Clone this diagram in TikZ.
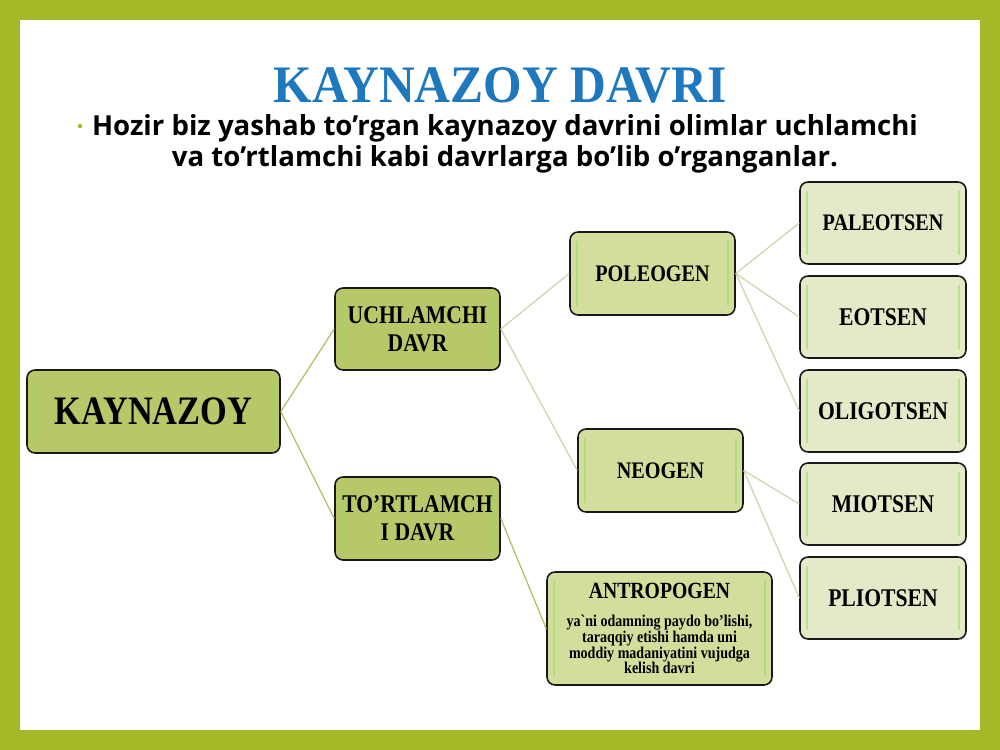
\documentclass[tikz,border=0pt]{standalone}
\usepackage{fontspec}
\setmainfont{Liberation Serif}
\newfontfamily\titlefont[FakeStretch=0.94]{Liberation Serif}
\newfontfamily\boxfont[FakeStretch=0.85]{Liberation Serif}
\newfontfamily\bodyfont{Open Sans}
\definecolor{frame}{RGB}{165,185,40}
\definecolor{titleblue}{RGB}{30,120,190}
\definecolor{greenA}{RGB}{184,200,105}
\definecolor{greenB}{RGB}{210,222,155}
\definecolor{greenC}{RGB}{228,234,200}
\definecolor{lineA}{RGB}{175,192,100}
\definecolor{lineB}{RGB}{205,212,175}
\tikzset{
  shine/.style={path picture={
    \draw[white!55!yellow!60!green,opacity=0.55,line width=1.6pt]
      ([xshift=0.14cm,yshift=-0.18cm]path picture bounding box.north west)--([xshift=0.14cm,yshift=0.18cm]path picture bounding box.south west)
      ([xshift=-0.14cm,yshift=-0.18cm]path picture bounding box.north east)--([xshift=-0.14cm,yshift=0.18cm]path picture bounding box.south east);}},
  box/.style={draw=black!90,line width=0.9pt,rounded corners=0.16cm,align=center,
    font=\boxfont\bfseries,inner sep=2pt,shine},
  lvlone/.style={box,fill=greenA,minimum width=3.3cm,minimum height=1.64cm,font=\boxfont\bfseries\fontsize{14.5}{16}\selectfont},
  lvltwo/.style={box,fill=greenB,minimum width=3.3cm,minimum height=1.66cm,font=\boxfont\bfseries\fontsize{13.5}{15}\selectfont},
  lvlthree/.style={box,fill=greenC,minimum width=3.32cm,minimum height=1.64cm,font=\boxfont\bfseries\fontsize{14.5}{16}\selectfont},
  linkA/.style={draw=lineA,line width=0.7pt},
  linkB/.style={draw=lineB,line width=0.7pt}
}
\begin{document}
\begin{tikzpicture}[x=0.02cm,y=-0.02cm]
  \fill[frame] (0,0) rectangle (1000,750);
  \fill[white] (20,20) rectangle (980,730);
  \useasboundingbox (0,0) rectangle (1000,750);
  % sarlavha
  \node[text=titleblue,font=\titlefont\bfseries\fontsize{30}{32}\selectfont] (title) at (500,85) {KAYNAZOY DAVRI};
  \fill[frame] (80,126) circle (2.2);
  \node[align=center,font=\bodyfont\bfseries\fontsize{15.7}{18}\selectfont] (intro) at (505,144)
    {Hozir biz yashab to’rgan kaynazoy davrini olimlar uchlamchi\\va to’rtlamchi kabi davrlarga bo’lib o’rganganlar.};
  % tugunlar
  \node[lvlone,minimum width=5.06cm,minimum height=1.66cm,font=\boxfont\bfseries\fontsize{23}{25}\selectfont] (kaynazoy) at (153.5,411.5) {KAYNAZOY};
  \node[lvlone] (uchlamchi) at (417.5,329) {UCHLAMCHI\\DAVR};
  \node[lvlone,minimum height=1.66cm] (tortlamchi) at (417.5,518.5) {TO’RTLAMCH\\I DAVR};
  \node[lvltwo] (poleogen) at (652.5,273.5) {POLEOGEN};
  \node[lvltwo] (neogen) at (660.5,470.5) {NEOGEN};
  \node[lvltwo,minimum width=4.5cm,minimum height=2.26cm,
    font=\boxfont\bfseries\fontsize{9.4}{9}\selectfont] (antropogen) at (659.5,628.5)
    {{\fontsize{13.2}{15}\selectfont ANTROPOGEN}\\[7pt]ya`ni odamning paydo bo’lishi,\\taraqqiy etishi hamda uni\\moddiy madaniyatini vujudga\\kelish davri};
  \node[lvlthree,font=\boxfont\bfseries\fontsize{13.5}{15}\selectfont] (paleotsen) at (883,223) {PALEOTSEN};
  \node[lvlthree] (eotsen) at (883,317) {EOTSEN};
  \node[lvlthree] (oligotsen) at (883,411) {OLIGOTSEN};
  \node[lvlthree] (miotsen) at (883,504) {MIOTSEN};
  \node[lvlthree] (pliotsen) at (883,598) {PLIOTSEN};
  % bog'lanishlar
  \draw[linkA] (kaynazoy.east)--(uchlamchi.west);
  \draw[linkA] (kaynazoy.east)--(tortlamchi.west);
  \draw[linkB] (uchlamchi.east)--(poleogen.west);
  \draw[linkB] (uchlamchi.east)--(neogen.west);
  \draw[linkA] (tortlamchi.east)--(antropogen.west);
  \foreach \n in {paleotsen,eotsen,oligotsen}
    \draw[linkB] (poleogen.east)--(\n.west);
  \foreach \n in {miotsen,pliotsen}
    \draw[linkB] (neogen.east)--(\n.west);
\end{tikzpicture}
\end{document}
